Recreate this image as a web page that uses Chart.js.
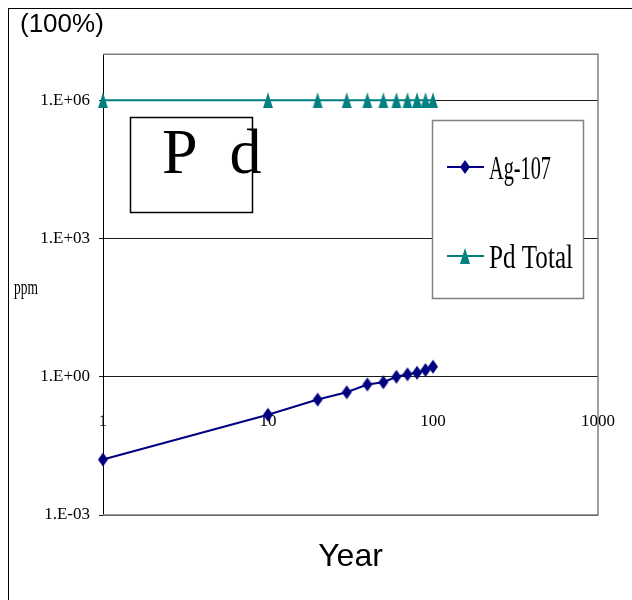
<!DOCTYPE html>
<html>
<head>
<meta charset="utf-8">
<script src="https://cdn.jsdelivr.net/npm/chart.js@4"></script>
<style>
  html, body { margin: 0; padding: 0; background: #fff; }
</style>
</head>
<body>
<canvas id="chart" width="632" height="600"></canvas>
<script>
// Data
const years = [1, 10, 20, 30, 40, 50, 60, 70, 80, 90, 100];
const ag107 = [0.016, 0.15, 0.32, 0.46, 0.68, 0.76, 1.0, 1.13, 1.22, 1.4, 1.65];
const pdTotal = [1e6, 1e6, 1e6, 1e6, 1e6, 1e6, 1e6, 1e6, 1e6, 1e6, 1e6];
const xTicks = [1, 10, 100, 1000];
const xTickLabels = ['1', '10', '100', '1000'];
const yTicks = [1e-3, 1, 1e3, 1e6];
const yTickLabels = ['1.E-03', '1.E+00', '1.E+03', '1.E+06'];

const tickFont = { family: "'Liberation Serif', 'Times New Roman', serif", size: 17 };

// tall marker shapes like the original
function makeMarker(shape, color) {
    const c = document.createElement('canvas');
    c.width = 12;
    c.height = 16;
    const g = c.getContext('2d');
    g.fillStyle = color;
    g.beginPath();
    if (shape === 'diamond') {
        g.moveTo(6, 1); g.lineTo(11, 8); g.lineTo(6, 15); g.lineTo(1, 8);
    } else {
        g.moveTo(6, 0); g.lineTo(11, 16); g.lineTo(1, 16);
    }
    g.closePath();
    g.fill();
    return c;
}

const diamond = makeMarker('diamond', '#000080');
const triangle = makeMarker('triangle', '#008080');

// narrow serif text, squeezed to a given width
function narrowText(ctx, text, x, y, size, width) {
    ctx.save();
    ctx.font = size + "px 'Liberation Serif', serif";
    const w = ctx.measureText(text).width;
    ctx.translate(x, y);
    ctx.scale(width / w, 1);
    ctx.textAlign = 'left';
    ctx.textBaseline = 'alphabetic';
    ctx.fillStyle = '#000';
    ctx.fillText(text, 0, 0);
    ctx.restore();
}

const framePlugin = {
    id: 'frame',
    beforeDraw(chart) {
        const ctx = chart.ctx;
        ctx.save();
        ctx.fillStyle = '#fff';
        ctx.fillRect(0, 0, chart.width, chart.height);
        ctx.strokeStyle = '#000';
        ctx.lineWidth = 1;
        ctx.strokeRect(8.5, 8.5, chart.width + 20, chart.height + 20);
        ctx.restore();
    },
    beforeDatasetsDraw(chart) {
        const ctx = chart.ctx;
        const a = chart.chartArea;
        ctx.save();
        ctx.strokeStyle = '#808080';
        ctx.lineWidth = 1.5;
        ctx.beginPath();
        ctx.moveTo(a.left, a.top);
        ctx.lineTo(a.right, a.top);
        ctx.lineTo(a.right, a.bottom);
        ctx.lineTo(a.left, a.bottom);
        ctx.stroke();
        ctx.restore();
    },
    afterDraw(chart) {
        const ctx = chart.ctx;
        ctx.save();

        // "ppm" axis label
        narrowText(ctx, 'ppm', 14, 294, 20, 24);

        // Pd text box
        ctx.fillStyle = '#fff';
        ctx.fillRect(130.5, 117.5, 122, 95);
        ctx.strokeStyle = '#000';
        ctx.lineWidth = 1.5;
        ctx.strokeRect(130.5, 117.5, 122, 95);
        ctx.fillStyle = '#000';
        ctx.font = "64px 'Liberation Serif', serif";
        ctx.textBaseline = 'alphabetic';
        ctx.fillText('P  d', 162, 173);

        // legend box
        ctx.fillStyle = '#fff';
        ctx.fillRect(432.5, 120.5, 151, 178);
        ctx.strokeStyle = '#808080';
        ctx.lineWidth = 1.5;
        ctx.strokeRect(432.5, 120.5, 151, 178);

        const rows = [167, 256];
        const widths = [62, 84];
        chart.data.datasets.forEach((ds, i) => {
            const y = rows[i];
            ctx.strokeStyle = ds.borderColor;
            ctx.lineWidth = 2;
            ctx.beginPath();
            ctx.moveTo(447, y);
            ctx.lineTo(484, y);
            ctx.stroke();
            const img = ds.pointStyle;
            ctx.drawImage(img, 465 - img.width / 2, y - img.height / 2);
            narrowText(ctx, ds.label, 489, y + 12, 34, widths[i]);
        });
        ctx.restore();
    }
};

const ctx = document.getElementById('chart').getContext('2d');
new Chart(ctx, {
    type: 'line',
    data: {
        datasets: [{
            label: 'Ag-107',
            data: years.map((x, i) => ({ x: x, y: ag107[i] })),
            borderColor: '#000080',
            backgroundColor: '#000080',
            borderWidth: 2,
            pointStyle: diamond,
            clip: false
        }, {
            label: 'Pd Total',
            data: years.map((x, i) => ({ x: x, y: pdTotal[i] })),
            borderColor: '#008080',
            backgroundColor: '#008080',
            borderWidth: 2,
            pointStyle: triangle,
            clip: false
        }]
    },
    options: {
        responsive: false,
        devicePixelRatio: 1,
        animation: false,
        layout: { padding: { left: 20, top: 8, right: 34, bottom: 0 } },
        scales: {
            x: {
                type: 'logarithmic',
                position: { y: 1 },
                min: 1,
                max: 1000,
                afterBuildTicks: s => { s.ticks = xTicks.map(v => ({ value: v })); },
                afterFit: s => { s.paddingLeft = 0; s.paddingRight = 0; },
                ticks: {
                    callback: v => xTickLabels[xTicks.indexOf(v)],
                    font: tickFont,
                    color: '#000',
                    padding: 27,
                    maxRotation: 0,
                    autoSkip: false
                },
                grid: { display: false },
                border: { display: false }
            },
            xTitle: {
                type: 'logarithmic',
                axis: 'x',
                position: 'bottom',
                min: 1,
                max: 1000,
                ticks: { display: false },
                grid: { display: false },
                border: { display: false },
                title: {
                    display: true,
                    text: 'Year',
                    color: '#000',
                    font: { family: "'Liberation Sans', Arial, sans-serif", size: 32 },
                    padding: { top: 0, bottom: 24 }
                },
                afterFit: s => { s.height = 85; s.paddingLeft = 0; s.paddingRight = 0; }
            },
            y: {
                type: 'logarithmic',
                min: 1e-3,
                max: 1e7,
                afterBuildTicks: s => { s.ticks = yTicks.map(v => ({ value: v })); },
                afterFit: s => { s.width = 83; },
                ticks: {
                    callback: v => yTickLabels[yTicks.indexOf(v)],
                    font: tickFont,
                    color: '#000',
                    padding: 9
                },
                grid: { color: '#1a1a1a', lineWidth: 1, tickLength: 4 },
                border: { color: '#000', width: 1 }
            }
        },
        plugins: {
            legend: { display: false },
            tooltip: { enabled: false },
            title: {
                display: true,
                text: '(100%)',
                align: 'start',
                color: '#000',
                font: { family: "'Liberation Sans', Arial, sans-serif", size: 26, weight: 'normal' },
                padding: { top: 1, bottom: 14 }
            }
        }
    },
    plugins: [framePlugin]
});
</script>
</body>
</html>
